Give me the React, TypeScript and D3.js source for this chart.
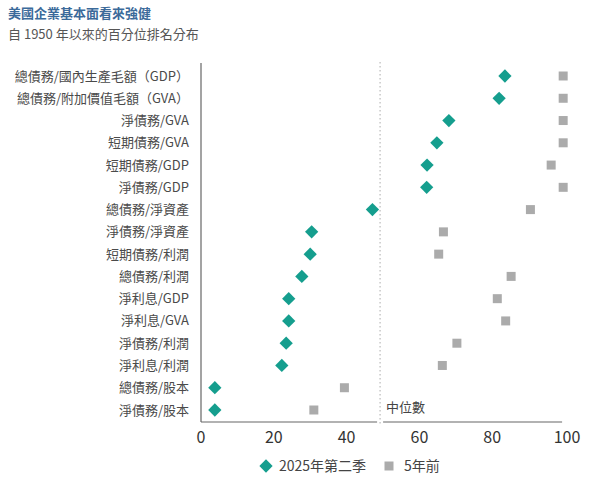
import { useRef, useEffect } from 'react'
import * as d3 from 'd3'

const categories = [
  '總債務/國內生產毛額（GDP）',
  '總債務/附加價值毛額（GVA）',
  '淨債務/GVA',
  '短期債務/GVA',
  '短期債務/GDP',
  '淨債務/GDP',
  '總債務/淨資產',
  '淨債務/淨資產',
  '短期債務/利潤',
  '總債務/利潤',
  '淨利息/GDP',
  '淨利息/GVA',
  '淨債務/利潤',
  '淨利息/利潤',
  '總債務/股本',
  '淨債務/股本',
]

// 2025年第二季
const current = [83.5, 81.9, 68.1, 64.8, 62.1, 62.0, 47.1, 30.4, 30.0, 27.7, 24.1, 24.1, 23.4, 22.2, 3.8, 3.8]
// 5年前
const fiveYearsAgo = [99.5, 99.5, 99.5, 99.5, 96.2, 99.5, 90.5, 66.6, 65.3, 85.2, 81.4, 83.7, 70.3, 66.3, 39.4, 31.0]

const xTicks = [0, 20, 40, 60, 80, 100]
const medianValue = 49.2

const title = '美國企業基本面看來強健'
const subtitle = '自 1950 年以來的百分位排名分布'
const seriesNames = ['2025年第二季', '5年前']

const font = '"Noto Sans CJK TC", "Noto Sans", sans-serif'
const teal = '#159e8e'
const grey = '#ababab'

const App = () => {
  const svgRef = useRef<SVGSVGElement>(null)

  useEffect(() => {
    if (!svgRef.current) return
    const width = 590
    const height = 480
    const svg = d3.select(svgRef.current)
    svg.selectAll('*').remove()
    svg.attr('width', width).attr('height', height)

    const x = d3.scaleLinear().domain([0, 100]).range([201, 565])
    const y = d3.scalePoint<string>().domain(categories).range([76, 410])
    const axisY = 422

    svg.append('text')
      .attr('x', 8).attr('y', 18)
      .attr('font-family', font).attr('font-size', 13).attr('font-weight', 'bold')
      .attr('fill', '#3b6a9a')
      .text(title)

    svg.append('text')
      .attr('x', 8).attr('y', 39)
      .attr('font-family', font).attr('font-size', 13)
      .attr('fill', '#555')
      .text(subtitle)

    // median dotted line
    svg.append('line')
      .attr('x1', x(medianValue)).attr('x2', x(medianValue))
      .attr('y1', 62).attr('y2', axisY + 4)
      .attr('stroke', '#c8c8c8').attr('stroke-width', 1.5)
      .attr('stroke-dasharray', '1.5,2.5')

    svg.append('text')
      .attr('x', x(medianValue) + 6).attr('y', 412)
      .attr('font-family', font).attr('font-size', 13)
      .attr('fill', '#444')
      .text('中位數')

    // axes
    svg.append('line')
      .attr('x1', x(0)).attr('x2', x(0))
      .attr('y1', 63).attr('y2', axisY)
      .attr('stroke', '#666').attr('stroke-width', 1.2)
    svg.append('line')
      .attr('x1', x(0)).attr('x2', x(medianValue) - 3)
      .attr('y1', axisY).attr('y2', axisY)
      .attr('stroke', '#666').attr('stroke-width', 1.2)
    svg.append('line')
      .attr('x1', x(medianValue) + 3).attr('x2', x(99.2))
      .attr('y1', axisY).attr('y2', axisY)
      .attr('stroke', '#666').attr('stroke-width', 1.2)

    svg.append('g')
      .selectAll('text')
      .data(xTicks)
      .join('text')
      .attr('x', d => x(d) + (d === 100 ? 2 : 0))
      .attr('y', 443)
      .attr('text-anchor', 'middle')
      .attr('font-family', font).attr('font-size', 16)
      .attr('fill', '#333')
      .text(d => d)

    svg.append('g')
      .selectAll('text')
      .data(categories)
      .join('text')
      .attr('x', 189)
      .attr('y', d => (y(d) ?? 0) + 4.5)
      .attr('text-anchor', 'end')
      .attr('font-family', font).attr('font-size', 13)
      .attr('fill', '#4a4a4a')
      .text(d => d)

    const square = d3.symbol().type(d3.symbolSquare).size(81)
    const diamond = d3.symbol().type(d3.symbolSquare).size(88)

    svg.append('g')
      .selectAll('path')
      .data(fiveYearsAgo)
      .join('path')
      .attr('d', square)
      .attr('transform', (d, i) => `translate(${x(d)},${y(categories[i])})`)
      .attr('fill', grey)

    svg.append('g')
      .selectAll('path')
      .data(current)
      .join('path')
      .attr('d', diamond)
      .attr('transform', (d, i) => `translate(${x(d)},${y(categories[i])}) rotate(45)`)
      .attr('fill', teal)

    // legend
    const legendY = 466
    svg.append('path')
      .attr('d', diamond)
      .attr('transform', `translate(266,${legendY}) rotate(45)`)
      .attr('fill', teal)
    svg.append('text')
      .attr('x', 279).attr('y', legendY + 5)
      .attr('font-family', font).attr('font-size', 14)
      .attr('fill', '#444')
      .text(seriesNames[0])
    svg.append('path')
      .attr('d', square)
      .attr('transform', `translate(389,${legendY})`)
      .attr('fill', grey)
    svg.append('text')
      .attr('x', 404).attr('y', legendY + 5)
      .attr('font-family', font).attr('font-size', 14)
      .attr('fill', '#444')
      .text(seriesNames[1])
  }, [])

  return (
    <div style={{ position: 'absolute', left: 0, top: 0, background: '#fff' }}>
      <svg ref={svgRef} style={{ display: 'block' }} />
    </div>
  )
}

export default App
